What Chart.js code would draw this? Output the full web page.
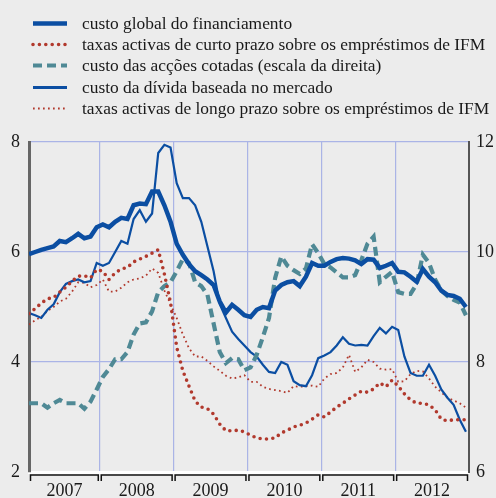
<!DOCTYPE html>
<html>
<head>
<meta charset="utf-8">
<script src="https://cdn.jsdelivr.net/npm/chart.js@4/dist/chart.umd.min.js"></script>
<style>
body { margin: 0; background: #ececec; }
#wrap { position: relative; width: 496px; height: 498px; }
#chart { position: absolute; left: 0; top: 0; }
#legend { position: absolute; left: 0; top: 0; font-family: "Liberation Serif", serif; font-size: 17.4px; color: #1a1a1a; }
.row { position: absolute; left: 30px; height: 21px; line-height: 21px; white-space: nowrap; }
.row svg { position: absolute; left: 0; top: 0; }
.row span { position: absolute; left: 52px; top: 0; }
</style>
</head>
<body>
<div id="wrap">
  <canvas id="chart" width="496" height="498"></canvas>
  <div id="legend"></div>
</div>
<script>
// monthly, Jan 2007 .. Dec 2012
var years = ['2007', '2008', '2009', '2010', '2011', '2012'];

var custoGlobal = [
  5.96, 6.0, 6.04, 6.07, 6.1, 6.2, 6.18, 6.25, 6.33, 6.25, 6.28, 6.45,
  6.5, 6.45, 6.55, 6.62, 6.6, 6.85, 6.88, 6.87, 7.1, 7.1, 6.85, 6.55,
  6.15, 5.95, 5.78, 5.65, 5.58, 5.5, 5.4, 5.1, 4.9, 5.04, 4.95, 4.85,
  4.82, 4.95, 5.0, 4.98, 5.3, 5.4, 5.45, 5.47, 5.38, 5.55, 5.8, 5.75,
  5.75, 5.82, 5.87, 5.89, 5.88, 5.85, 5.78, 5.87, 5.86, 5.71, 5.75, 5.8,
  5.64, 5.63, 5.55, 5.46, 5.69, 5.55, 5.45, 5.3, 5.22, 5.2, 5.15, 5.0
];

var taxasCurto = [
  4.88, 4.97, 5.07, 5.15, 5.17, 5.27, 5.36, 5.47, 5.56, 5.57, 5.53, 5.68,
  5.65, 5.5, 5.62, 5.69, 5.72, 5.82, 5.87, 5.92, 5.98, 6.04, 5.6, 5.08,
  4.27, 3.84, 3.56, 3.29, 3.18, 3.15, 3.05, 2.87, 2.75, 2.75, 2.76, 2.73,
  2.67, 2.62, 2.6, 2.6, 2.62, 2.71, 2.76, 2.82, 2.85, 2.89, 2.96, 3.04,
  3.0, 3.09, 3.18, 3.25, 3.33, 3.4, 3.47, 3.45, 3.51, 3.62, 3.55, 3.67,
  3.56, 3.42, 3.31, 3.25, 3.25, 3.22, 3.13, 2.96, 2.93, 2.95, 2.95, 2.95
];

// right-hand scale
var custoAccoes = [
  7.25, 7.25, 7.25, 7.17, 7.25, 7.31, 7.25, 7.25, 7.25, 7.15, 7.28, 7.5,
  7.73, 7.87, 8.05, 8.05, 8.18, 8.5, 8.7, 8.72, 8.92, 9.27, 9.38, 9.45,
  9.65, 9.87, 9.8, 9.45, 9.38, 9.22, 8.7, 8.18, 7.98, 8.07, 8.05, 7.85,
  7.9, 8.13, 8.45, 8.8, 9.53, 9.92, 9.75, 9.67, 9.6, 9.7, 10.14, 9.98,
  9.78, 9.72, 9.63, 9.54, 9.54, 9.58, 9.85, 10.15, 10.28, 9.45, 9.55, 9.64,
  9.27, 9.24, 9.24, 9.42, 9.95, 9.8, 9.5, 9.3, 9.2, 9.13, 9.08, 8.85
];

var custoDivida = [
  4.89, 4.85, 4.8, 4.95, 5.05, 5.27, 5.42, 5.47, 5.5, 5.45, 5.47, 5.8,
  5.75, 5.8, 6.0, 6.2, 6.15, 6.6, 6.76, 6.55, 6.7, 7.8, 7.95, 7.9,
  7.25, 6.98, 6.98, 6.85, 6.55, 6.1, 5.65, 5.05, 4.8, 4.55, 4.42, 4.3,
  4.18, 4.1, 3.95, 3.82, 3.8, 4.0, 3.95, 3.65, 3.58, 3.56, 3.76, 4.07,
  4.12, 4.18, 4.3, 4.45, 4.33, 4.3, 4.31, 4.3, 4.47, 4.62, 4.52, 4.64,
  4.58, 4.1, 3.8, 3.75, 3.75, 3.95, 3.75, 3.5, 3.35, 3.22, 2.95, 2.73
];

var taxasLongo = [
  4.68, 4.76, 4.82, 4.93, 5.0, 5.1, 5.15, 5.28, 5.45, 5.44, 5.36, 5.4,
  5.5, 5.28, 5.28, 5.35, 5.45, 5.5, 5.52, 5.57, 5.7, 5.62, 5.3, 5.05,
  4.8, 4.5, 4.25, 4.1, 4.1, 4.02, 3.92, 3.84, 3.75, 3.7, 3.72, 3.76,
  3.64, 3.64, 3.55, 3.51, 3.49, 3.47, 3.44, 3.56, 3.55, 3.56, 3.57, 3.55,
  3.7, 3.78, 3.8, 3.9, 4.13, 3.82, 3.9, 4.04, 4.0, 3.88, 3.86, 3.87,
  3.64, 3.65, 3.78, 3.84, 3.83, 3.7, 3.55, 3.45, 3.35, 3.3, 3.25, 3.17
];

var names = [
  'custo global do financiamento',
  'taxas activas de curto prazo sobre os empréstimos de IFM',
  'custo das acções cotadas (escala da direita)',
  'custo da dívida baseada no mercado',
  'taxas activas de longo prazo sobre os empréstimos de IFM'
];

var blue = '#0b4ea2', red = '#b1392d', teal = '#4f8995', grid = '#aab4e6';

// year boundaries and label centres on the month axis
var bounds = [0, 11.5, 23.5, 35.5, 47.5, 59.5, 71.5];
var centres = [];
for (var k = 0; k < years.length; k++) centres.push((bounds[k] + bounds[k + 1]) / 2);

function pts(arr) {
  return arr.map(function (v, i) { return {x: i, y: v}; });
}

var styles = [
  {data: custoGlobal, borderColor: blue, borderWidth: 4.5, yAxisID: 'y'},
  {data: taxasCurto, borderColor: red, borderWidth: 3.6, borderDash: [0, 6.4], borderCapStyle: 'round', yAxisID: 'y'},
  {data: custoAccoes, borderColor: teal, borderWidth: 4.2, borderDash: [9, 5], yAxisID: 'y2'},
  {data: custoDivida, borderColor: blue, borderWidth: 2.2, yAxisID: 'y'},
  {data: taxasLongo, borderColor: red, borderWidth: 1.8, borderDash: [1.7, 3.3], yAxisID: 'y'}
];

var datasets = styles.map(function (s, i) {
  return {
    label: names[i],
    data: pts(s.data),
    borderColor: s.borderColor,
    borderWidth: s.borderWidth,
    borderDash: s.borderDash || [],
    borderCapStyle: s.borderCapStyle || 'butt',
    yAxisID: s.yAxisID,
    pointRadius: 0,
    tension: 0,
    fill: false
  };
});

// html legend
var legend = document.getElementById('legend');
var rowTop = 12.5;
datasets.forEach(function (d, i) {
  var dash = d.borderDash.length ? ' stroke-dasharray="' + d.borderDash.join(',') + '"' : '';
  var w = i == 0 ? 4.5 : (i == 3 ? 3 : d.borderWidth);
  var row = document.createElement('div');
  row.className = 'row';
  row.style.top = (rowTop + i * 21.4) + 'px';
  row.innerHTML = '<svg width="40" height="21"><line x1="3" y1="10.5" x2="37" y2="10.5" stroke="' + d.borderColor +
    '" stroke-width="' + w + '" stroke-linecap="' + d.borderCapStyle + '"' + dash + '/></svg><span>' + d.label + '</span>';
  legend.appendChild(row);
});

var yearBrackets = {
  id: 'yearBrackets',
  afterDraw: function (chart) {
    var x = chart.scales.x, ctx = chart.ctx, y0 = chart.chartArea.bottom + 3;
    ctx.save();
    ctx.strokeStyle = '#111';
    ctx.lineWidth = 1.5;
    for (var k = 0; k < bounds.length - 1; k++) {
      var a = x.getPixelForValue(bounds[k]) + 1.5, b = x.getPixelForValue(bounds[k + 1]) - 1.5;
      ctx.beginPath();
      ctx.moveTo(a, y0 + 6);
      ctx.lineTo(a, y0);
      ctx.lineTo(b, y0);
      ctx.lineTo(b, y0 + 6);
      ctx.stroke();
    }
    ctx.restore();
  }
};

var font = {family: '"Liberation Serif", serif', size: 18};

var myChart = new Chart(document.getElementById('chart'), {
  type: 'line',
  data: {datasets: datasets},
  plugins: [yearBrackets],
  options: {
    responsive: false,
    animation: false,
    devicePixelRatio: 1,
    layout: {padding: {top: 142, left: 0, right: 0, bottom: 0}},
    plugins: {legend: {display: false}, tooltip: {enabled: false}},
    scales: {
      x: {
        type: 'linear',
        min: 0,
        max: 71.5,
        afterFit: function (s) { s.height = 26; },
        afterBuildTicks: function (s) {
          s.ticks = bounds.concat(centres).sort(function (a, b) { return a - b; })
            .map(function (v) { return {value: v}; });
        },
        ticks: {
          autoSkip: false,
          maxRotation: 0,
          padding: 8,
          color: '#1a1a1a',
          font: font,
          callback: function (v) {
            var i = centres.indexOf(v);
            return i >= 0 ? years[i] : '';
          }
        },
        grid: {
          drawTicks: false,
          lineWidth: 1.2,
          color: function (c) {
            var v = c.tick && c.tick.value;
            return (bounds.indexOf(v) > 0 && v < 71.5) ? grid : 'rgba(0,0,0,0)';
          }
        },
        border: {color: '#ffffff', width: 3}
      },
      y: {
        position: 'left',
        min: 2,
        max: 8,
        afterFit: function (s) { s.width = 29; },
        ticks: {stepSize: 2, padding: 9, color: '#1a1a1a', font: font},
        grid: {drawTicks: false, color: grid, lineWidth: 1.2},
        border: {color: '#666666', width: 3}
      },
      y2: {
        position: 'right',
        min: 6,
        max: 12,
        afterFit: function (s) { s.width = 27; },
        ticks: {stepSize: 2, padding: 7, color: '#1a1a1a', font: font},
        grid: {drawOnChartArea: false, drawTicks: false},
        border: {color: '#555555', width: 2}
      }
    }
  }
});
</script>
</body>
</html>
